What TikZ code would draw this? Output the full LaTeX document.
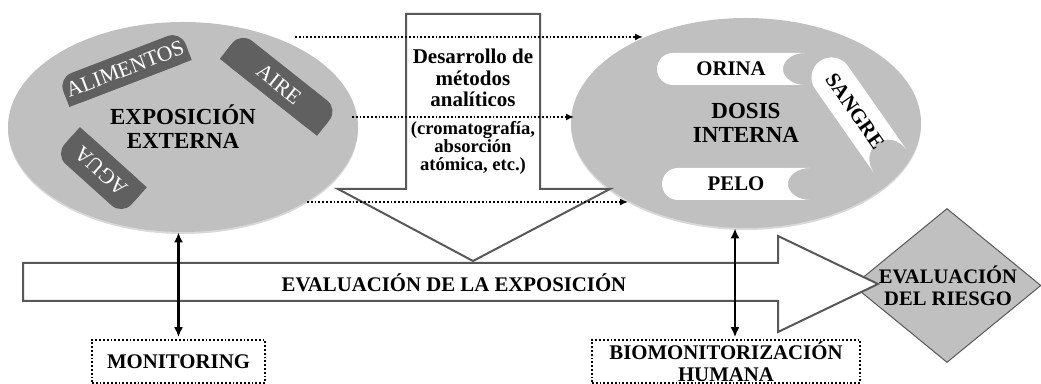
\documentclass[tikz,border=0pt]{standalone}
\usepackage{fontspec}
\setmainfont{Liberation Serif}
\usetikzlibrary{arrows.meta}
\usetikzlibrary{shapes.geometric}
\usetikzlibrary{shadows}
\usetikzlibrary{calc,positioning}

\definecolor{discgray}{RGB}{192,192,192}
\definecolor{tabgray}{RGB}{96,96,96}
\definecolor{edgegray}{RGB}{88,88,88}

\begin{document}
\begin{tikzpicture}[>=Latex, x=0.5pt, y=0.5pt,
    disc/.style = {ellipse, fill=discgray, minimum width=175pt, minimum height=105pt, inner sep=0pt,
        align=center, font=\fontsize{11.5}{12}\selectfont\bfseries,
        drop shadow={opacity=0.3, shadow xshift=0pt, shadow yshift=-1pt}},
    bigarrow/.style = {fill=white, draw=edgegray, line width=1pt, line join=miter},
    dotarrow/.style = {->, dash pattern=on 0.9pt off 1pt, line width=0.8pt, >={Latex[length=4pt,width=3.5pt]}},
    linkarrow/.style = {<->, line width=1.3pt, >={Latex[length=5pt,width=4.5pt]}},
    dotbox/.style = {draw, dash pattern=on 0.9pt off 1pt, line width=0.8pt, inner sep=0pt, align=center,
        font=\fontsize{10.4}{11}\selectfont\bfseries},
    pics/tab/.style n args={3}{code={
        \fill[tabgray, rounded corners=7pt] (-#1/2,-#2/2) rectangle (#1/2,#2/2);
        \fill[tabgray] (-#1/2,-#2/2) rectangle (#1/2,0);
        \node[transform shape, text=white, font=\fontsize{10.8}{11}\selectfont] (label) {#3};
    }},
    pics/scroll/.style n args={3}{code={
        \fill[white] (#1/2,#2/2) -- (-#1/2+#2/2,#2/2) arc[start angle=90, end angle=270, radius=#2/2]
            -- (#1/2,-#2/2) arc[start angle=-90, end angle=-270, x radius=22, y radius=#2/2] -- cycle;
        \node[transform shape, font=\fontsize{10.4}{11}\selectfont\bfseries] (label) {#3};
    }}
]
    \useasboundingbox (0,0) rectangle (1041,384);

    % the two ellipses
    \node[disc] (ext) at (183,257) {EXPOSICIÓN\\EXTERNA};
    \node[disc] (int) at (746,261) {DOSIS\\INTERNA};

    \pic[rotate=21] (alim) at (125,315) {tab={131}{31}{ALIMENTOS}};
    \pic[rotate=-38.4] (aire) at (279,300) {tab={124}{34}{AIRE}};
    \pic[rotate=138] (agua) at (101,213) {tab={90}{37}{AGUA}};

    \pic (orina) at (731,315) {scroll={148}{32}{ORINA}};
    \pic (pelo) at (736,200) {scroll={148}{32}{PELO}};
    \pic[rotate=-55] (sangre) at (855,273) {scroll={122}{40}{SANGRE}};

    % analytical methods
    \draw[bigarrow] (406,370) -- (540,370) -- (540,195) -- (610,195) -- (473,123) -- (338,195) -- (406,195) -- cycle;
    \node[font=\fontsize{10.5}{10.75}\selectfont\bfseries, align=center] (dev) at (473,306) {Desarrollo de\\métodos\\analíticos};
    \node[font=\fontsize{9.3}{8.8}\selectfont\bfseries, align=center] (tech) at (473,236) {(cromatografía,\\absorción\\atómica, etc.)};

    % risk
    \node[diamond, fill=discgray, draw=edgegray, line width=0.5pt, minimum width=94pt, minimum height=77pt, inner sep=0pt] (riskbg) at (947,98.5) {};
    \draw[bigarrow] (23,83) -- (778,83) -- (778,52) -- (878,100) -- (778,148) -- (778,121) -- (23,121) -- cycle;
    \node[font=\fontsize{10.4}{11}\selectfont\bfseries] (expo) at (454,101) {EVALUACIÓN DE LA EXPOSICIÓN};
    \node[font=\fontsize{10.3}{11}\selectfont\bfseries, align=center] (risk) at (948,98) {EVALUACIÓN\\DEL RIESGO};

    % dotted links
    \coordinate (outA) at (295,347);
    \coordinate (inA) at (643,347);
    \coordinate (outB) at (352,267);
    \coordinate (inB) at (574,267);
    \coordinate (outC) at (307,182);
    \coordinate (inC) at (628,182);
    \draw[dotarrow] (outA) -- (inA);
    \draw[dotarrow] (outB) -- (inB);
    \draw[dotarrow] (outC) -- (inC);

    % monitoring
    \node[dotbox, minimum width=86.5pt, minimum height=21.5pt] (mon) at (178.5,22.5) {MONITORING};
    \node[dotbox, minimum width=134pt, minimum height=21.5pt] (bio) at (726,22.5) {BIOMONITORIZACIÓN\\HUMANA};
    \coordinate (biotop) at ([xshift=4.5pt,yshift=1pt]bio.north);

    \draw[linkarrow] (ext.south -| mon.north) -- ([yshift=1pt]mon.north);
    \draw[linkarrow] (biotop |- int.south) -- (biotop);

\end{tikzpicture}
\end{document}
